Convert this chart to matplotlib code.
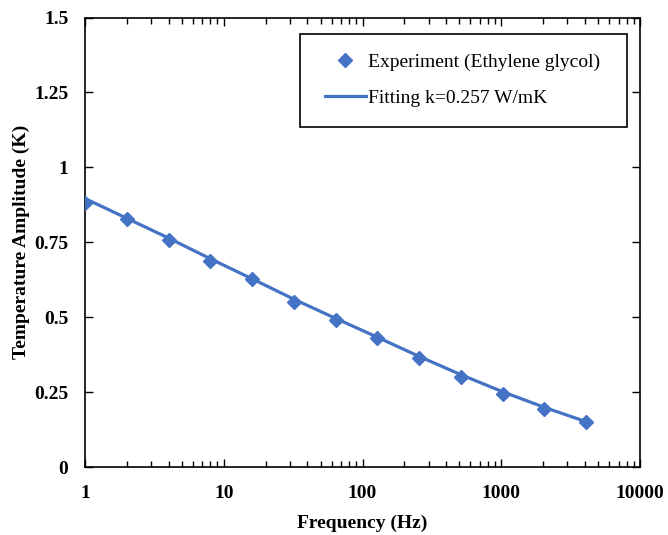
import matplotlib
matplotlib.use("Agg")
import matplotlib.pyplot as plt
from matplotlib.patches import Rectangle
from matplotlib.ticker import LogLocator, FixedLocator, NullFormatter, FixedFormatter

plt.rcParams['font.family'] = ['Liberation Serif', 'DejaVu Serif']

freq = [1, 2, 4, 8, 16, 32, 64, 128, 256, 512, 1024, 2048, 4096]
amp_exp = [0.882, 0.826, 0.759, 0.687, 0.629, 0.549, 0.492, 0.432, 0.365, 0.301, 0.245, 0.192, 0.151]
amp_fit = [0.896, 0.830, 0.764, 0.695, 0.628, 0.560, 0.496, 0.433, 0.369, 0.308, 0.251, 0.199, 0.151]

yticks = [0, 0.25, 0.5, 0.75, 1, 1.25, 1.5]
ytick_labels = ["0", "0.25", "0.5", "0.75", "1", "1.25", "1.5"]
xticks = [1, 10, 100, 1000, 10000]
xtick_labels = ["1", "10", "100", "1000", "10000"]

color = "#4472C4"
W, H = 668, 535

fig = plt.figure(figsize=(6.68, 5.35), dpi=100)
ax = fig.add_axes([85/W, 1 - 467/H, (640 - 85)/W, (467 - 17.5)/H])

ax.plot(freq, amp_exp, linestyle='none', marker='D', markersize=7, color=color,
        label='Experiment (Ethylene glycol)', zorder=3)
ax.plot(freq, amp_fit, linestyle='-', linewidth=2.3, color=color,
        label='Fitting k=0.257 W/mK', zorder=2)

ax.set_xscale('log')
ax.set_xlim(1, 10000)
ax.set_ylim(0, 1.5)
ax.xaxis.set_major_locator(FixedLocator(xticks))
ax.xaxis.set_major_formatter(FixedFormatter(xtick_labels))
ax.xaxis.set_minor_locator(LogLocator(base=10, subs=range(2, 10)))
ax.xaxis.set_minor_formatter(NullFormatter())
ax.set_yticks(yticks)
ax.set_yticklabels(ytick_labels)

ax.tick_params(axis='both', which='both', direction='in', top=True, right=True,
               width=1, colors='black')
ax.tick_params(axis='x', which='major', length=6, pad=13)
ax.tick_params(axis='x', which='minor', length=4)
ax.tick_params(axis='y', which='major', length=6, pad=12)
for lab in ax.get_xticklabels() + ax.get_yticklabels():
    lab.set_fontsize(14)
    lab.set_fontweight('bold')

for sp in ax.spines.values():
    sp.set_linewidth(1.2)
    sp.set_color('black')

ax.set_xlabel('Frequency (Hz)', fontsize=14, fontweight='bold', labelpad=9)
ax.set_ylabel('Temperature Amplitude (K)', fontsize=14, fontweight='bold', labelpad=3)

leg = fig.legend(*ax.get_legend_handles_labels(), loc='upper left',
                 bbox_to_anchor=(325/W, 1 - 53.4/H),
                 fontsize=14, frameon=False, borderpad=0, labelspacing=0.95,
                 handlelength=2.1, handletextpad=0.1, borderaxespad=0)
leg._legend_box.sep = 5
fig.patches.append(Rectangle((300/W, 1 - 127/H), 327/W, 93/H, transform=fig.transFigure,
                             fill=False, edgecolor='black', linewidth=1.2, zorder=5))

fig.savefig('out.png', dpi=100)
